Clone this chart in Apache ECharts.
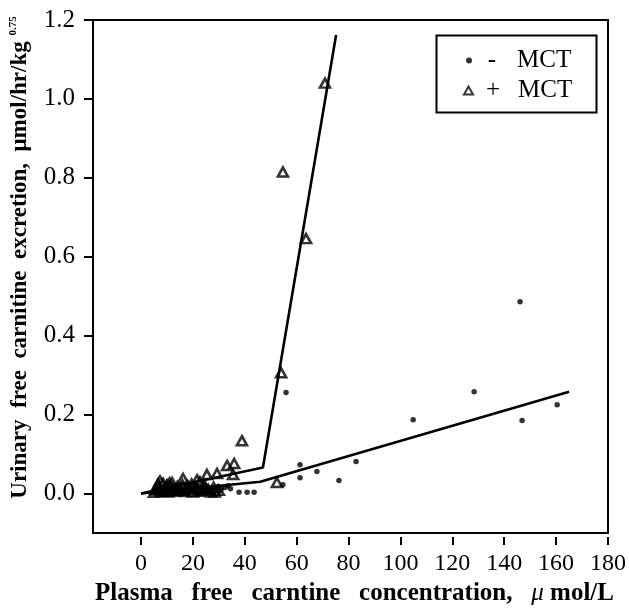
<!DOCTYPE html>
<html>
<head>
<meta charset="utf-8">
<script src="https://cdn.jsdelivr.net/npm/echarts@6/dist/echarts.min.js"></script>
<style>
html,body{margin:0;padding:0;background:#fff;}
#chart{width:629px;height:614px;}
</style>
</head>
<body>
<div id="chart"></div>
<script>
// ---- data ----
const xTickValues = [0, 20, 40, 60, 80, 100, 120, 140, 160, 180];
const yTickValues = [0, 0.2, 0.4, 0.6, 0.8, 1.0, 1.2];

// - MCT (dots)
const minusMctX = [4, 5, 6, 7, 8, 9, 10, 11, 12, 13, 14, 15, 16, 17, 18, 19, 20, 21, 22, 23, 24, 25, 26, 27, 28, 29.7, 31, 32.4, 33.5,
  5.5, 7.5, 9.5, 11.5, 13.5, 15.5, 17.5, 19.5, 21.5, 23.5, 25.5, 27.5, 30, 34.5,
  37.8, 40.9, 43.6, 54.7, 55.9, 61.3, 61.3, 67.8, 76.3, 82.9, 104.9, 128.4, 146.1, 146.9, 160.4];
const minusMctY = [0.002, 0.006, 0.01, 0.003, 0.012, 0.005, 0.015, 0.004, 0.01, 0.018, 0.006, 0.002, 0.012, 0.008, 0.003, 0.014, 0.006, 0.016, 0.002, 0.01, 0.013, 0.004, 0.011, 0.007, 0.015, 0.018, 0.012, 0.015, 0.02,
  0.0, 0.008, 0.0, 0.007, 0.001, 0.008, 0.0, 0.005, 0.0, 0.004, 0.009, 0.0, 0.005, 0.012,
  0.003, 0.003, 0.003, 0.022, 0.256, 0.073, 0.04, 0.056, 0.033, 0.081, 0.187, 0.258, 0.486, 0.185, 0.225];

// + MCT (triangles)
const plusMctX = [5, 6, 7, 7.3, 8, 9, 10, 10.5, 11.5, 12, 13, 14, 15, 16.2, 17, 18, 19, 20, 21, 21.6, 22.7, 23.5, 24.5, 25.4, 26, 27, 28, 29.3, 30,
  6.5, 8.5, 9.5, 11, 12.5, 14.5, 16, 17.5, 19.5, 22, 25, 28.5,
  33.2, 35.5, 35.9, 38.9, 52.4, 54, 54.7, 63.6, 70.9];
const plusMctY = [0.003, 0.01, 0.018, 0.032, 0.005, 0.012, 0.022, 0.004, 0.015, 0.028, 0.006, 0.018, 0.01, 0.038, 0.005, 0.02, 0.012, 0.004, 0.016, 0.035, 0.03, 0.008, 0.02, 0.048, 0.01, 0.004, 0.016, 0.051, 0.008,
  0.024, 0.026, 0.006, 0.027, 0.012, 0.008, 0.022, 0.012, 0.024, 0.006, 0.013, 0.004,
  0.071, 0.048, 0.076, 0.134, 0.028, 0.306, 0.815, 0.646, 1.04];

// fitted broken lines
const minusFitX = [0, 46, 165];
const minusFitY = [0, 0.03, 0.258];
const plusFitX = [0, 47, 75.2];
const plusFitY = [0, 0.066, 1.162];

const seriesNames = ['-  MCT', '+ MCT'];

// ---- build ----
const zip = (xs, ys) => xs.map((x, i) => [x, ys[i]]);
const FONT = "'Liberation Serif', 'Times New Roman', serif";

const chart = echarts.init(document.getElementById('chart'), null, {renderer: 'canvas'});
const legendFormatter = name => {
  const sign = name.trim().charAt(0);
  return '{s|' + sign + '}{m|MCT}';
};
const legendRich = {
  s: {fontFamily: FONT, fontSize: 25, color: '#000', width: 30, align: 'center'},
  m: {fontFamily: FONT, fontSize: 25, color: '#000', padding: [0, 0, 0, 10]}
};

chart.setOption({
  animation: false,
  backgroundColor: '#fff',
  grid: {left: 93, top: 20, right: 20, bottom: 81, show: true, borderColor: '#000', borderWidth: 2, backgroundColor: 'transparent'},
  legend: [
    {
      data: [seriesNames[0]], left: 466, top: 48, orient: 'vertical', padding: 0,
      itemWidth: 6, itemHeight: 6, icon: 'circle',
      formatter: legendFormatter, textStyle: {rich: legendRich, fontFamily: FONT, fontSize: 25, color: '#000'}
    },
    {
      data: [seriesNames[1]], left: 463, top: 78, orient: 'vertical', padding: 0,
      itemWidth: 9, itemHeight: 8, icon: 'triangle',
      formatter: legendFormatter, textStyle: {rich: legendRich, fontFamily: FONT, fontSize: 25, color: '#000'}
    }
  ],
  graphic: [
    {type: 'rect', left: 434, top: 33, shape: {width: 160, height: 77}, style: {fill: 'none', stroke: '#000', lineWidth: 2}, z: 10}
  ],
  xAxis: {
    type: 'value', min: -18.5, max: 180,
    offset: 4,
    axisLine: {show: false, onZero: false},
    axisTick: {show: true, inside: false, length: 8, lineStyle: {color: '#000', width: 2}, customValues: xTickValues},
    axisLabel: {customValues: xTickValues, color: '#000', fontFamily: FONT, fontSize: 24, margin: 15, formatter: v => String(v)},
    splitLine: {show: false},
    name: '{t|Plasma   free   carntine   concentration,   }{u|μ}{t| mol/L}',
    nameLocation: 'middle', nameGap: 40,
    nameTextStyle: {
      padding: [0, 0, 0, 8],
      rich: {
        t: {fontFamily: FONT, fontSize: 25, fontWeight: 'bold', color: '#000'},
        u: {fontFamily: FONT, fontSize: 25, fontStyle: 'italic', color: '#000'}
      }
    }
  },
  yAxis: {
    type: 'value', min: -0.1, max: 1.2,
    axisLine: {show: true, onZero: false, lineStyle: {color: '#000', width: 2}},
    axisTick: {show: true, inside: false, length: 9, lineStyle: {color: '#000', width: 2}, customValues: yTickValues},
    axisLabel: {customValues: yTickValues, color: '#000', fontFamily: FONT, fontSize: 25, margin: 18, formatter: v => v.toFixed(1)},
    splitLine: {show: false},
    name: '{t|Urinary  free  carnitine  excretion,  μmol/hr/kg }{s|0.75}',
    nameLocation: 'middle', nameGap: 60, nameRotate: 90,
    nameTextStyle: {
      padding: [0, 0, 0, 38],
      rich: {
        t: {fontFamily: FONT, fontSize: 23, fontWeight: 'bold', color: '#000'},
        s: {fontFamily: FONT, fontSize: 11, fontWeight: 'bold', color: '#000', padding: [0, 0, 14, 0]}
      }
    }
  },
  series: [
    {
      name: seriesNames[0], type: 'scatter', data: zip(minusMctX, minusMctY),
      symbol: 'circle', symbolSize: 5.5, itemStyle: {color: '#000'}, z: 3
    },
    {
      name: seriesNames[1], type: 'scatter', data: zip(plusMctX, plusMctY),
      symbol: 'triangle', symbolSize: [10, 9],
      itemStyle: {color: 'rgba(255,255,255,0)', borderColor: '#000', borderWidth: 2.6}, z: 3
    },
    {
      name: 'fit-minus', type: 'line', data: zip(minusFitX, minusFitY), symbol: 'none',
      lineStyle: {color: '#000', width: 2.6}, z: 2
    },
    {
      name: 'fit-plus', type: 'line', data: zip(plusFitX, plusFitY), symbol: 'none',
      lineStyle: {color: '#000', width: 2.6}, z: 2
    }
  ]
});
</script>
</body>
</html>
